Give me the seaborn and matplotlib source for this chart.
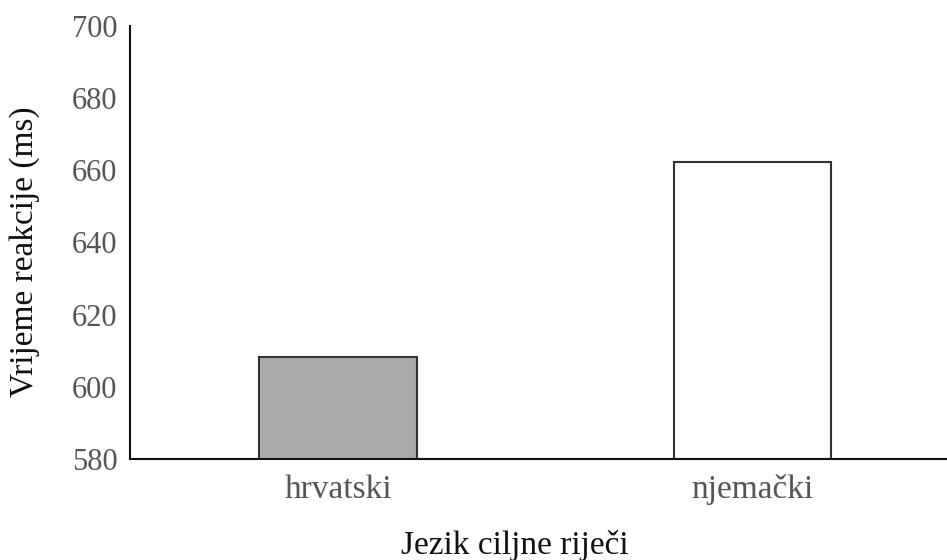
import matplotlib
matplotlib.use("Agg")
import matplotlib.pyplot as plt
import seaborn as sns
import pandas as pd

categories = ["hrvatski", "njemački"]
values = [608.4, 662.2]
bar_colors = ["#aaaaaa", "#ffffff"]
y_ticks = [580, 600, 620, 640, 660, 680, 700]

sns.set_theme(style="white")
plt.rcParams['font.family'] = ['Liberation Serif', 'DejaVu Serif']

df = pd.DataFrame({"jezik": categories, "rt": values})

fig = plt.figure(figsize=(9.47, 5.6), dpi=100)
ax = fig.add_axes([130/947, 101/560, 1 - 130/947, (459-26)/560])

sns.barplot(data=df, x="jezik", y="rt", hue="jezik", palette=bar_colors,
            edgecolor="#333333", linewidth=1.5, width=0.38, legend=False, ax=ax)

ax.set_ylim(580, 700)
ax.set_xlim(-0.502, 1.47)
ax.set_yticks(y_ticks)
ax.tick_params(axis="both", length=0, labelcolor="#555555")
ax.tick_params(axis="y", pad=9, labelsize=22)
ax.tick_params(axis="x", pad=11, labelsize=24)
ax.set_xlabel("Jezik ciljne riječi", fontsize=24, color="#111111")
ax.set_ylabel("Vrijeme reakcije (ms)", fontsize=24, color="#111111")
ax.xaxis.set_label_coords(0.471, -0.163)
ax.yaxis.set_label_coords(-0.110, 0.478)

for s in ["top", "right"]:
    ax.spines[s].set_visible(False)
for s in ["left", "bottom"]:
    ax.spines[s].set_color("#111111")
    ax.spines[s].set_linewidth(1.5)

fig.savefig("out.png", dpi=100)
